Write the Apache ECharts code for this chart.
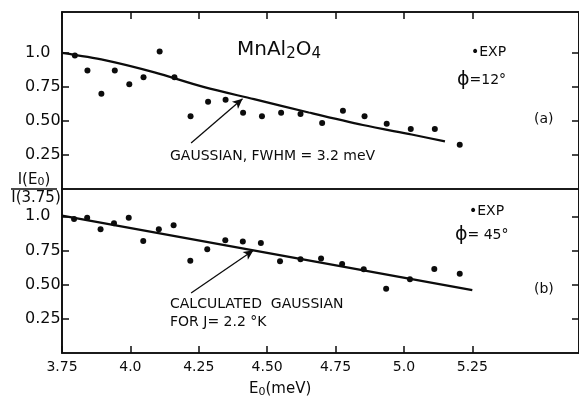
<!DOCTYPE html>
<html>
<head>
<meta charset="utf-8">
<script src="https://cdn.jsdelivr.net/npm/echarts@6/dist/echarts.min.js"></script>
<style>
  html, body { margin: 0; padding: 0; background: #fff; }
  #chart { width: 579px; height: 398px; }
</style>
</head>
<body>
<div id="chart"></div>
<script>
// Incident energy E0 (meV) and normalised intensity I(E0)/I(3.75)
// (a) phi = 12 deg
const expE_a = [3.797, 3.843, 3.894, 3.943, 3.996, 4.048, 4.107, 4.161, 4.220, 4.284, 4.348,
                4.412, 4.481, 4.551, 4.622, 4.701, 4.777, 4.856, 4.937, 5.025, 5.113, 5.204];
const expI_a = [0.98, 0.87, 0.70, 0.87, 0.77, 0.82, 1.01, 0.82, 0.535, 0.64, 0.655,
                0.56, 0.535, 0.56, 0.55, 0.485, 0.575, 0.535, 0.48, 0.44, 0.44, 0.325];
// Gaussian, FWHM = 3.2 meV
const fitE_a = [3.75, 3.906, 4.088, 4.27, 4.452, 4.652, 4.85, 5.028, 5.15];
const fitI_a = [1.0, 0.947, 0.857, 0.748, 0.66, 0.562, 0.47, 0.40, 0.35];

// (b) phi = 45 deg
const expE_b = [3.794, 3.842, 3.891, 3.940, 3.994, 4.047, 4.104, 4.158, 4.219, 4.281, 4.347,
                4.411, 4.477, 4.547, 4.622, 4.697, 4.774, 4.853, 4.935, 5.022, 5.111, 5.204];
const expI_b = [0.98, 0.99, 0.905, 0.95, 0.99, 0.82, 0.905, 0.935, 0.675, 0.76, 0.825,
                0.815, 0.805, 0.672, 0.686, 0.692, 0.652, 0.613, 0.47, 0.54, 0.615, 0.58];
// Calculated Gaussian for J = 2.2 K
const fitE_b = [3.75, 5.25];
const fitI_b = [1.005, 0.46];

// Tick positions and their printed labels
const xTicks = [3.75, 4.0, 4.25, 4.5, 4.75, 5.0, 5.25];
const xTickLabels = ['3.75', '4.0', '4.25', '4.50', '4.75', '5.0', '5.25'];
const yTicks = [0.25, 0.5, 0.75, 1.0];
const yTickLabels = ['0.25', '0.50', '0.75', '1.0'];

const INK = '#0c0c0c';
const FONT = '"DejaVu Sans", sans-serif';

const pairs = (xs, ys) => xs.map((x, i) => [x, ys[i]]);
const labelFor = (ticks, labels) => v => {
  const i = ticks.findIndex(t => Math.abs(t - v) < 1e-6);
  return i < 0 ? '' : labels[i];
};

const xRange = { min: 3.75, max: 5.64 };
const frameLine = { show: true, onZero: false, lineStyle: { color: INK, width: 1.6 } };
const innerTicks = values => ({ show: true, inside: true, length: 7, customValues: values,
                                lineStyle: { color: INK, width: 1.5 } });

function yAxisPair(gridIndex, max) {
  const common = {
    type: 'value', gridIndex, min: 0, max,
    splitLine: { show: false },
    axisLine: frameLine,
    axisTick: innerTicks(yTicks)
  };
  return [
    Object.assign({}, common, {
      position: 'left',
      axisLabel: { show: true, customValues: yTicks, formatter: labelFor(yTicks, yTickLabels),
                   align: 'left', margin: 37, color: INK, fontFamily: FONT, fontSize: 16 }
    }),
    Object.assign({}, common, { position: 'right', axisLabel: { show: false } })
  ];
}

const chart = echarts.init(document.getElementById('chart'), null, { renderer: 'canvas' });

const arrowLine = (from, to) => ({
  silent: true,
  symbol: ['none', 'arrow'],
  symbolSize: [7, 10],
  label: { show: false },
  lineStyle: { color: INK, width: 1.3, type: 'solid', opacity: 1 },
  itemStyle: { color: INK },
  emphasis: { disabled: true },
  animation: false,
  data: [[{ coord: from }, { coord: to }]]
});

const dotStyle = { color: INK, opacity: 1 };

chart.setOption({
  animation: false,
  backgroundColor: '#ffffff',
  grid: [
    { left: 62, right: -2, top: 12, height: 177, show: true, borderColor: INK, borderWidth: 1.6,
      backgroundColor: 'transparent' },
    { left: 62, right: -2, top: 189, height: 164, show: true, borderColor: INK, borderWidth: 1.6,
      backgroundColor: 'transparent' }
  ],
  xAxis: [
    Object.assign({ type: 'value', gridIndex: 0, position: 'top',
      splitLine: { show: false }, axisLine: frameLine,
      axisTick: innerTicks(xTicks),
      axisLabel: { show: false } }, xRange),
    Object.assign({ type: 'value', gridIndex: 1, position: 'bottom',
      splitLine: { show: false }, axisLine: frameLine,
      axisTick: innerTicks(xTicks),
      axisLabel: { show: true, customValues: xTicks, formatter: labelFor(xTicks, xTickLabels),
                   margin: 7, color: INK, fontFamily: FONT, fontSize: 14 } }, xRange)
  ],
  yAxis: [].concat(yAxisPair(0, 1.3), yAxisPair(1, 1.2)),
  series: [
    { type: 'scatter', xAxisIndex: 0, yAxisIndex: 0, data: pairs(expE_a, expI_a),
      symbol: 'circle', symbolSize: 6, itemStyle: dotStyle },
    { type: 'line', xAxisIndex: 0, yAxisIndex: 0, data: pairs(fitE_a, fitI_a),
      smooth: 0.3, showSymbol: false, lineStyle: { color: INK, width: 2.2 },
      markLine: arrowLine([4.222, 0.337], [4.41, 0.662]) },
    { type: 'scatter', xAxisIndex: 1, yAxisIndex: 2, data: pairs(expE_b, expI_b),
      symbol: 'circle', symbolSize: 6, itemStyle: dotStyle },
    { type: 'line', xAxisIndex: 1, yAxisIndex: 2, data: pairs(fitE_b, fitI_b),
      showSymbol: false, lineStyle: { color: INK, width: 2.2 },
      markLine: arrowLine([4.222, 0.439], [4.45, 0.752]) }
  ],
  graphic: [
    // compound name
    { type: 'text', x: 237, y: 50, style: {
        text: '{m|MnAl}{s|2}{m|O}{s|4}', fill: INK, verticalAlign: 'middle',
        rich: {
          m: { fontFamily: FONT, fontSize: 20, fill: INK, lineHeight: 30, verticalAlign: 'middle' },
          s: { fontFamily: FONT, fontSize: 15, fill: INK, lineHeight: 30, verticalAlign: 'middle', padding: [9, 0, 0, 0] }
        } } },
    // panel (a) legend
    { type: 'text', x: 471, y: 52, style: { text: '•EXP', fill: INK, font: '14px ' + FONT, verticalAlign: 'middle' } },
    { type: 'text', x: 457, y: 80, style: {
        text: '{p|ϕ}{t|=12°}', verticalAlign: 'middle',
        rich: { p: { fontFamily: FONT, fontSize: 19, fill: INK }, t: { fontFamily: FONT, fontSize: 14, fill: INK } } } },
    { type: 'text', x: 534, y: 119, style: { text: '(a)', fill: INK, font: '14px ' + FONT, verticalAlign: 'middle' } },
    { type: 'text', x: 170, y: 156, style: { text: 'GAUSSIAN, FWHM = 3.2 meV', fill: INK, font: '14px ' + FONT, verticalAlign: 'middle' } },
    // panel (b) legend
    { type: 'text', x: 469, y: 211, style: { text: '•EXP', fill: INK, font: '14px ' + FONT, verticalAlign: 'middle' } },
    { type: 'text', x: 455, y: 235, style: {
        text: '{p|ϕ}{t|= 45°}', verticalAlign: 'middle',
        rich: { p: { fontFamily: FONT, fontSize: 19, fill: INK }, t: { fontFamily: FONT, fontSize: 14, fill: INK } } } },
    { type: 'text', x: 534, y: 289, style: { text: '(b)', fill: INK, font: '14px ' + FONT, verticalAlign: 'middle' } },
    { type: 'text', x: 170, y: 304, style: { text: 'CALCULATED  GAUSSIAN', fill: INK, font: '14px ' + FONT, verticalAlign: 'middle' } },
    { type: 'text', x: 170, y: 322, style: { text: 'FOR J= 2.2 °K', fill: INK, font: '14px ' + FONT, verticalAlign: 'middle' } },
    // axis titles
    { type: 'text', x: 249, y: 389, style: {
        text: '{e|E}{s|0}{e|(meV)}', verticalAlign: 'middle',
        rich: {
          e: { fontFamily: FONT, fontSize: 15, fill: INK, lineHeight: 22, verticalAlign: 'middle' },
          s: { fontFamily: FONT, fontSize: 11, fill: INK, lineHeight: 22, verticalAlign: 'middle', padding: [6, 0, 0, 0] }
        } } },
    { type: 'text', x: 34, y: 180, style: {
        text: '{e|I(E}{s|0}{e|)}', align: 'center', verticalAlign: 'middle',
        rich: {
          e: { fontFamily: FONT, fontSize: 15, fill: INK, lineHeight: 20, verticalAlign: 'middle' },
          s: { fontFamily: FONT, fontSize: 11, fill: INK, lineHeight: 20, verticalAlign: 'middle', padding: [5, 0, 0, 0] }
        } } },
    { type: 'line', shape: { x1: 11, y1: 189, x2: 57, y2: 189 }, style: { stroke: INK, lineWidth: 1.4 } },
    { type: 'text', x: 36, y: 198, style: { text: 'I(3.75)', fill: INK, font: '15px ' + FONT, align: 'center', verticalAlign: 'middle' } }
  ]
});
</script>
</body>
</html>
